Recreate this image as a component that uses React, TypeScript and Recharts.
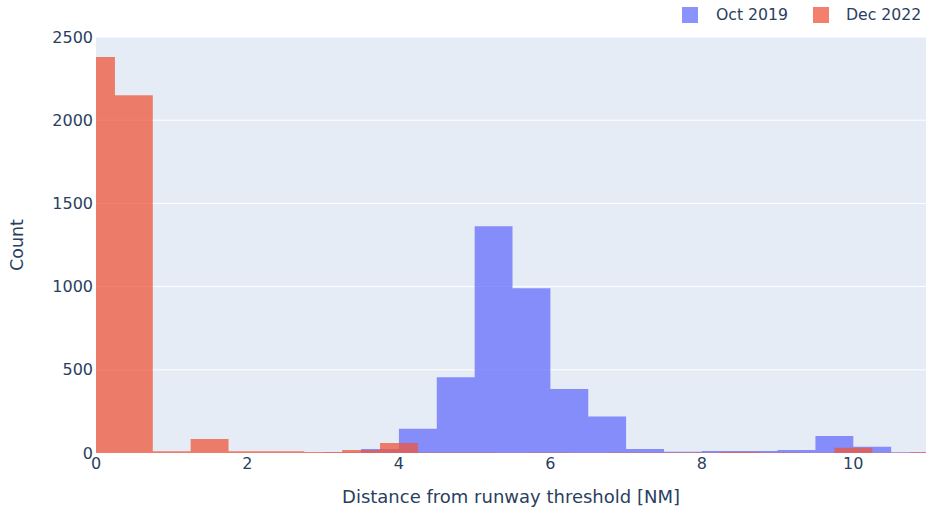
import React from "react";
import { Area, CartesianGrid, ComposedChart, Label, XAxis, YAxis } from "recharts";

// Oct 2019: bins of 0.5 NM starting at 0
const octBinStart = 0;
const octCounts = [0, 0, 0, 0, 0, 0, 3, 24, 145, 455, 1362, 990, 385, 220, 24, 8, 12, 12, 18, 102, 38, 5];

// Dec 2022: bins of 0.5 NM starting at -0.25
const decBinStart = -0.25;
const decCounts = [2380, 2150, 10, 84, 10, 10, 6, 18, 60, 3, 3, 2, 3, 1, 3, 3, 3, 6, 3, 2, 32, 2, 5];

const binWidth = 0.5;
const xTicks = [0, 2, 4, 6, 8, 10];
const yTicks = [0, 500, 1000, 1500, 2000, 2500];

const seriesNames = ["Oct 2019", "Dec 2022"];
const BLUE = "#636efa";
const RED = "#ef553b";
const TEXT = "#2a3f5f";
const FONT = "'DejaVu Sans', Verdana, sans-serif";

const lookup = (counts: number[], start: number, x: number) => {
    const i = Math.floor((x - start) / binWidth + 1e-9);
    return i >= 0 && i < counts.length ? counts[i] : 0;
};

// rows at every quarter step so both bin grids have an edge
const data: { x: number; oct: number; dec: number }[] = [];
for (let x = -0.25; x <= 11.25 + 1e-9; x += 0.25) {
    data.push({ x, oct: lookup(octCounts, octBinStart, x), dec: lookup(decCounts, decBinStart, x) });
}

const App = () => {
    return (
        <div style={{ position: "absolute", left: 0, top: 0, width: 926, height: 511, background: "#fff", fontFamily: FONT }}>
            <ComposedChart width={926} height={511} data={data} margin={{ top: 37, right: 0, bottom: 0, left: 0 }}>
                <CartesianGrid vertical={false} stroke="#ffffff" strokeWidth={1} fill="#E5ECF6" />
                <XAxis
                    dataKey="x"
                    type="number"
                    domain={[0, 10.96]}
                    allowDataOverflow
                    ticks={xTicks}
                    tickLine={false}
                    axisLine={false}
                    tickSize={0}
                    tickMargin={5}
                    height={58}
                    tick={{ fill: TEXT, fontSize: 16, fontFamily: FONT }}
                >
                    <Label value="Distance from runway threshold [NM]" position="insideBottom" offset={8} fill={TEXT} fontSize={18} fontFamily={FONT} />
                </XAxis>
                <YAxis
                    type="number"
                    domain={[0, 2500]}
                    ticks={yTicks}
                    tickLine={false}
                    axisLine={false}
                    tickSize={0}
                    tickMargin={3}
                    width={96}
                    tick={{ fill: TEXT, fontSize: 16, fontFamily: FONT }}
                >
                    <Label
                        content={({ viewBox }: any) => {
                            const cy = viewBox.y + viewBox.height / 2;
                            return (
                                <text x={17} y={cy} transform={`rotate(-90, 17, ${cy})`} textAnchor="middle" dominantBaseline="central" fill={TEXT} fontSize={17.5} fontFamily={FONT}>
                                    Count
                                </text>
                            );
                        }}
                    />
                </YAxis>
                <Area dataKey="oct" name={seriesNames[0]} type="stepAfter" stroke="none" fill={BLUE} fillOpacity={0.75} isAnimationActive={false} />
                <Area dataKey="dec" name={seriesNames[1]} type="stepAfter" stroke="none" fill={RED} fillOpacity={0.75} isAnimationActive={false} />
            </ComposedChart>
            <div style={{ position: "absolute", top: 7, left: 682, display: "flex", alignItems: "center", fontSize: 15.7, color: TEXT, lineHeight: "16px" }}>
                <span style={{ width: 16, height: 16, background: BLUE, opacity: 0.75, display: "inline-block" }} />
                <span style={{ marginLeft: 18, width: 97 }}>{seriesNames[0]}</span>
                <span style={{ width: 16, height: 16, background: RED, opacity: 0.75, display: "inline-block" }} />
                <span style={{ marginLeft: 17 }}>{seriesNames[1]}</span>
            </div>
        </div>
    );
};

export default App;
